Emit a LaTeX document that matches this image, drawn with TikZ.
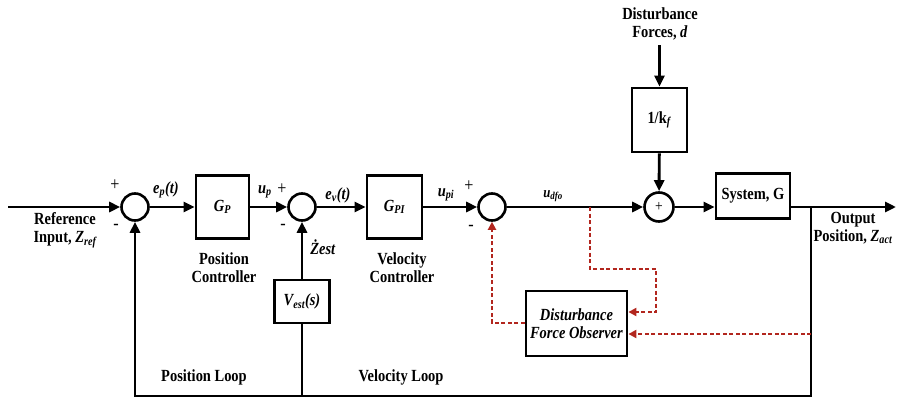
\documentclass[tikz,border=0pt]{standalone}
\usepackage{fontspec}
\setmainfont{Liberation Serif}[FakeStretch=0.85]
\usetikzlibrary{arrows.meta}
\definecolor{dred}{RGB}{178,38,30}
\newcommand\lblfont{\fontsize{17}{18}\selectfont\bfseries}
\newcommand\pmfont{\fontsize{19}{19}\selectfont}
\begin{document}
\begin{tikzpicture}[x=1pt,y=-1pt,
  line width=2.9pt,
  arr/.style={-{Triangle[length=11pt,width=10pt]}},
  rarr/.style={dred,line width=2.3pt,dash pattern=on 4pt off 2.5pt,-{Triangle[length=8pt,width=8pt]}},
  sumnode/.style={circle,draw,line width=2.6pt,minimum size=27pt,inner sep=0pt},
  blk/.style={draw,line width=2.8pt,inner sep=0pt,align=center,font=\lblfont},
  lbl/.style={align=center,font=\lblfont,inner sep=0pt},
  pm/.style={font=\pmfont,inner sep=0pt}]
\useasboundingbox (0,0) rectangle (898,399);

% nodes
\node[sumnode] (s1) at (135,207) {};
\node[blk,minimum width=53pt,minimum height=63pt] (gp) at (222.5,207) {\textit{G\textsubscript{P}}};
\node[sumnode] (s2) at (302,207) {};
\node[blk,minimum width=55pt,minimum height=63pt] (gpi) at (394.5,207) {\textit{G\textsubscript{PI}}};
\node[sumnode] (s3) at (492,207) {};
\node[sumnode,minimum size=29pt,font=\fontsize{16}{16}\selectfont] (s4) at (659,207) {+};
\node[blk,minimum width=55pt,minimum height=64pt] (kf) at (659.5,120) {1/k\textsubscript{\textit{f}}};
\node[blk,minimum width=74pt,minimum height=45pt] (sys) at (753,196) {System, G};
\node[blk,minimum width=55pt,minimum height=43pt] (vest) at (302,301.5) {\textit{V\textsubscript{est}(s)}};
\node[blk,minimum width=101pt,minimum height=65pt] (dfo) at (576.5,323.5) {\textit{Disturbance}\\\textit{Force Observer}};

% text labels
\node[lbl] (ref) at (65,230) {Reference\\Input, \textit{Z\textsubscript{ref}}};
\node[lbl] (poc) at (224,268) {Position\\Controller};
\node[lbl] (vec) at (402,268) {Velocity\\Controller};
\node[lbl] (dist) at (660,24) {Disturbance\\Forces, \textit{d}};
\node[lbl] (outl) at (853,228) {Output\\Position, \textit{Z\textsubscript{act}}};
\node[lbl] (pl) at (204,377) {Position Loop};
\node[lbl] (vl) at (401,377) {Velocity Loop};
\node[lbl] (ep) at (166,190) {\textit{e\textsubscript{p}(t)}};
\node[lbl] (up) at (265,192) {\textit{u\textsubscript{p}}};
\node[lbl] (ev) at (338,195) {\textit{e\textsubscript{v}(t)}};
\node[lbl] (upi) at (446,195) {\textit{u\textsubscript{pi}}};
\node[lbl,font=\fontsize{15}{15}\selectfont\bfseries] (udfo) at (553,196) {\textit{u\textsubscript{dfo}}};
\node[lbl] (zest) at (323,247) {\textit{Żest}};

\node[pm] (p1) at (115,185) {+};
\node[pm] (m1) at (116,227) {-};
\node[pm] (p2) at (282,189) {+};
\node[pm] (m2) at (283,227) {-};
\node[pm] (p3) at (469,186) {+};
\node[pm] (m3) at (471,228) {-};

% coordinates
\coordinate (in) at (8,207);
\coordinate (out) at (896,207);
\coordinate (br) at (811,207);
\coordinate (bot) at (811,396);
\coordinate (dtop) at (659.5,45);
\coordinate (tap) at (590,207);
\coordinate (c1) at (590,269);
\coordinate (c2) at (656,269);
\coordinate (c3) at (656,312);
\coordinate (c4) at (811,334);
\coordinate (c5) at (492,323);

% black connectors
\draw[arr] (in) -- (s1);
\draw[arr] (s1) -- (gp);
\draw[arr] (gp) -- (s2);
\draw[arr] (s2) -- (gpi);
\draw[arr] (gpi) -- (s3);
\draw[arr] (s3) -- (s4);
\draw[arr] (s4.east) -- (s4.east -| sys.west);
\draw[arr] (dtop) -- (kf);
\draw[arr] (kf) -- (s4);
\draw[arr] (s4.east -| sys.east) -- (out);
\draw[arr] (br) -- (bot) -| (s1.south);
\draw (vest.south) -- (vest.south |- bot);
\draw[arr] (vest.north) -- (s2.south);

% red dashed connectors
\draw[rarr] (tap) -- (c1) -- (c2) -- (c3) -- (c3 -| dfo.east);
\draw[rarr] (c4) -- (c4 -| dfo.east);
\draw[rarr] (c5 -| dfo.west) -- (c5) -- (s3.south);
\end{tikzpicture}
\end{document}
